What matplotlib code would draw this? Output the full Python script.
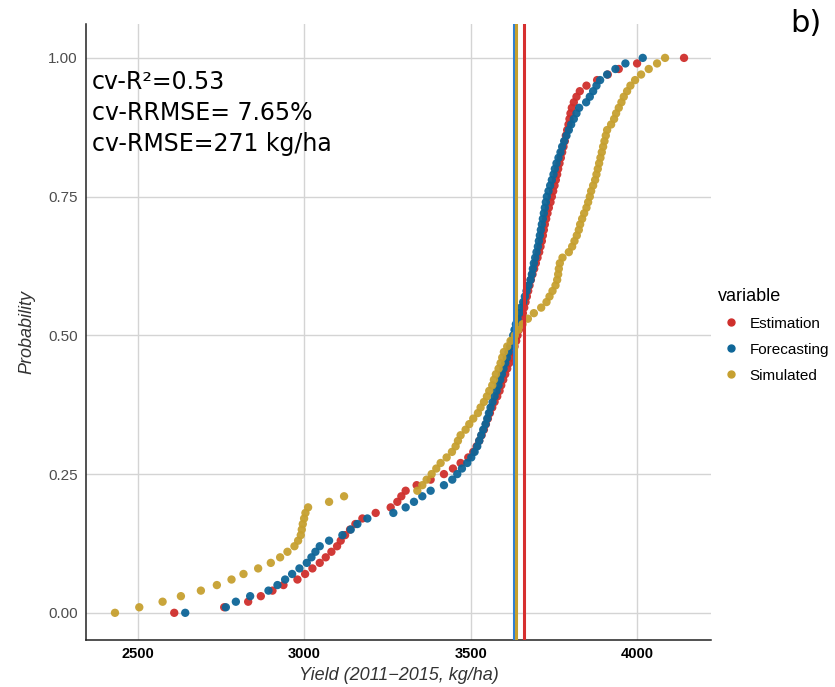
import numpy as np
import matplotlib
matplotlib.use("Agg")
import matplotlib.pyplot as plt
from matplotlib.lines import Line2D

plt.rcParams['font.family'] = ['Liberation Sans', 'DejaVu Sans']

estimation = [
    2610, 2760, 2832, 2870, 2905, 2938, 2980, 3003, 3025, 3047,
    3065, 3082, 3099, 3110, 3123, 3138, 3154, 3175, 3215, 3260,
    3280, 3292, 3305, 3338, 3380, 3420, 3447, 3470, 3493, 3508,
    3518, 3526, 3533, 3540, 3546, 3552, 3558, 3565, 3572, 3580,
    3587, 3592, 3598, 3604, 3610, 3616, 3622, 3627, 3632, 3637,
    3641, 3645, 3649, 3653, 3657, 3661, 3665, 3669, 3673, 3677,
    3681, 3686, 3691, 3696, 3701, 3706, 3710, 3714, 3717, 3720,
    3723, 3727, 3731, 3735, 3740, 3744, 3748, 3752, 3756, 3760,
    3763, 3767, 3771, 3775, 3779, 3783, 3786, 3790, 3794, 3797,
    3800, 3804, 3810, 3818, 3828, 3848, 3880, 3912, 3945, 4000,
    4141,
]
forecasting = [
    2643, 2765, 2795, 2838, 2893, 2920, 2943, 2964, 2986, 3008,
    3022, 3034, 3047, 3075, 3115, 3140, 3160, 3190, 3268, 3305,
    3330, 3355, 3380, 3420, 3445, 3460, 3474, 3490, 3502, 3512,
    3520, 3526, 3532, 3538, 3545, 3550, 3555, 3560, 3566, 3572,
    3578, 3584, 3589, 3594, 3599, 3604, 3609, 3614, 3619, 3624,
    3628, 3632, 3636, 3641, 3646, 3651, 3658, 3663, 3668, 3674,
    3680, 3684, 3687, 3690, 3694, 3698, 3702, 3705, 3708, 3711,
    3714, 3717, 3720, 3723, 3726, 3729, 3734, 3739, 3744, 3749,
    3753, 3758, 3764, 3770, 3775, 3781, 3788, 3795, 3802, 3810,
    3818, 3826, 3847, 3858, 3868, 3878, 3889, 3910, 3935, 3965,
    4017,
]
simulated = [
    2432, 2505, 2575, 2630, 2690, 2738, 2782, 2818, 2862, 2900,
    2928, 2950, 2971, 2982, 2990, 2993, 2996, 3000, 3004, 3012,
    3075, 3120, 3340, 3355, 3368, 3383, 3397, 3410, 3428, 3444,
    3455, 3462, 3470, 3485, 3496, 3508, 3522, 3530, 3540, 3549,
    3556, 3565, 3570, 3576, 3584, 3590, 3595, 3600, 3610, 3620,
    3633, 3643, 3656, 3672, 3690, 3712, 3728, 3737, 3746, 3755,
    3760, 3763, 3765, 3768, 3776, 3795, 3805, 3812, 3819, 3825,
    3829, 3835, 3841, 3848, 3853, 3858, 3862, 3868, 3874, 3878,
    3882, 3886, 3890, 3894, 3898, 3902, 3906, 3910, 3922, 3931,
    3937, 3945, 3953, 3960, 3970, 3980, 3994, 4012, 4035, 4060,
    4084,
]

series_names = ["Estimation", "Forecasting", "Simulated"]
series_data = [estimation, forecasting, simulated]
point_colors = ["#cf2f2c", "#0e6698", "#c6a030"]
# mean yield of each series (vertical lines)
mean_yield = [3659, 3629, 3635]
line_colors = ["#d63030", "#2f80d4", "#c6a030"]

stats_text = ["cv-R\u00b2=0.53", "cv-RRMSE= 7.65%", "cv-RMSE=271 kg/ha"]

fig = plt.figure(figsize=(8.35, 6.87), dpi=100)
ax = fig.add_axes([0.103, 0.0684, 0.7485, 0.8966])

for name, vals, col in zip(series_names, series_data, point_colors):
    x = np.sort(np.array(vals, dtype=float))
    p = np.arange(len(x)) / (len(x) - 1)
    ax.scatter(x, p, s=36, color=col, edgecolors="none", alpha=0.95,
               zorder=3, label=name)

for m, col in zip(mean_yield, line_colors):
    ax.axvline(m, color=col, lw=2.2, zorder=4)

ax.set_xlim(2345, 4222)
ax.set_ylim(-0.049, 1.061)
ax.set_xticks([2500, 3000, 3500, 4000])
ax.set_yticks([0, 0.25, 0.5, 0.75, 1.0])
ax.set_yticklabels(["0.00", "0.25", "0.50", "0.75", "1.00"])
ax.grid(True, color="#d4d4d4", lw=1.0)
ax.set_axisbelow(True)
for s in ["top", "right"]:
    ax.spines[s].set_visible(False)
for s in ["left", "bottom"]:
    ax.spines[s].set_linewidth(1.1)
    ax.spines[s].set_color("#222222")
ax.tick_params(length=0, pad=6)
ax.tick_params(axis="y", labelcolor="#4d4d4d", labelsize=11)
ax.tick_params(axis="x", labelcolor="black", labelsize=10.5, pad=5)
for lab in ax.get_xticklabels():
    lab.set_fontweight("bold")

ax.set_xlabel("Yield (2011\u22122015, kg/ha)", fontsize=13, style="italic",
              color="#333333", labelpad=4.5)
ax.set_ylabel("Probability", fontsize=13, style="italic",
              color="#333333", labelpad=9)

for i, t in enumerate(stats_text):
    ax.text(0.0096, 0.906 - i * 0.0503, t, transform=ax.transAxes,
            fontsize=17, family="DejaVu Sans", va="center", ha="left",
            color="black")

handles = [Line2D([], [], marker="o", ls="", color=c, markersize=5)
           for c in point_colors]
leg = fig.legend(handles, series_names, title="variable", loc="center left",
                 bbox_to_anchor=(0.847, 0.512), frameon=False,
                 fontsize=11, title_fontsize=13, handlelength=1.7,
                 handletextpad=0.35, labelspacing=0.78, borderpad=0.2,
                 alignment="left")

fig.text(0.965, 0.966, "b)", fontsize=22, family="DejaVu Sans",
         ha="center", va="center")

fig.savefig("out.png", dpi=100)
